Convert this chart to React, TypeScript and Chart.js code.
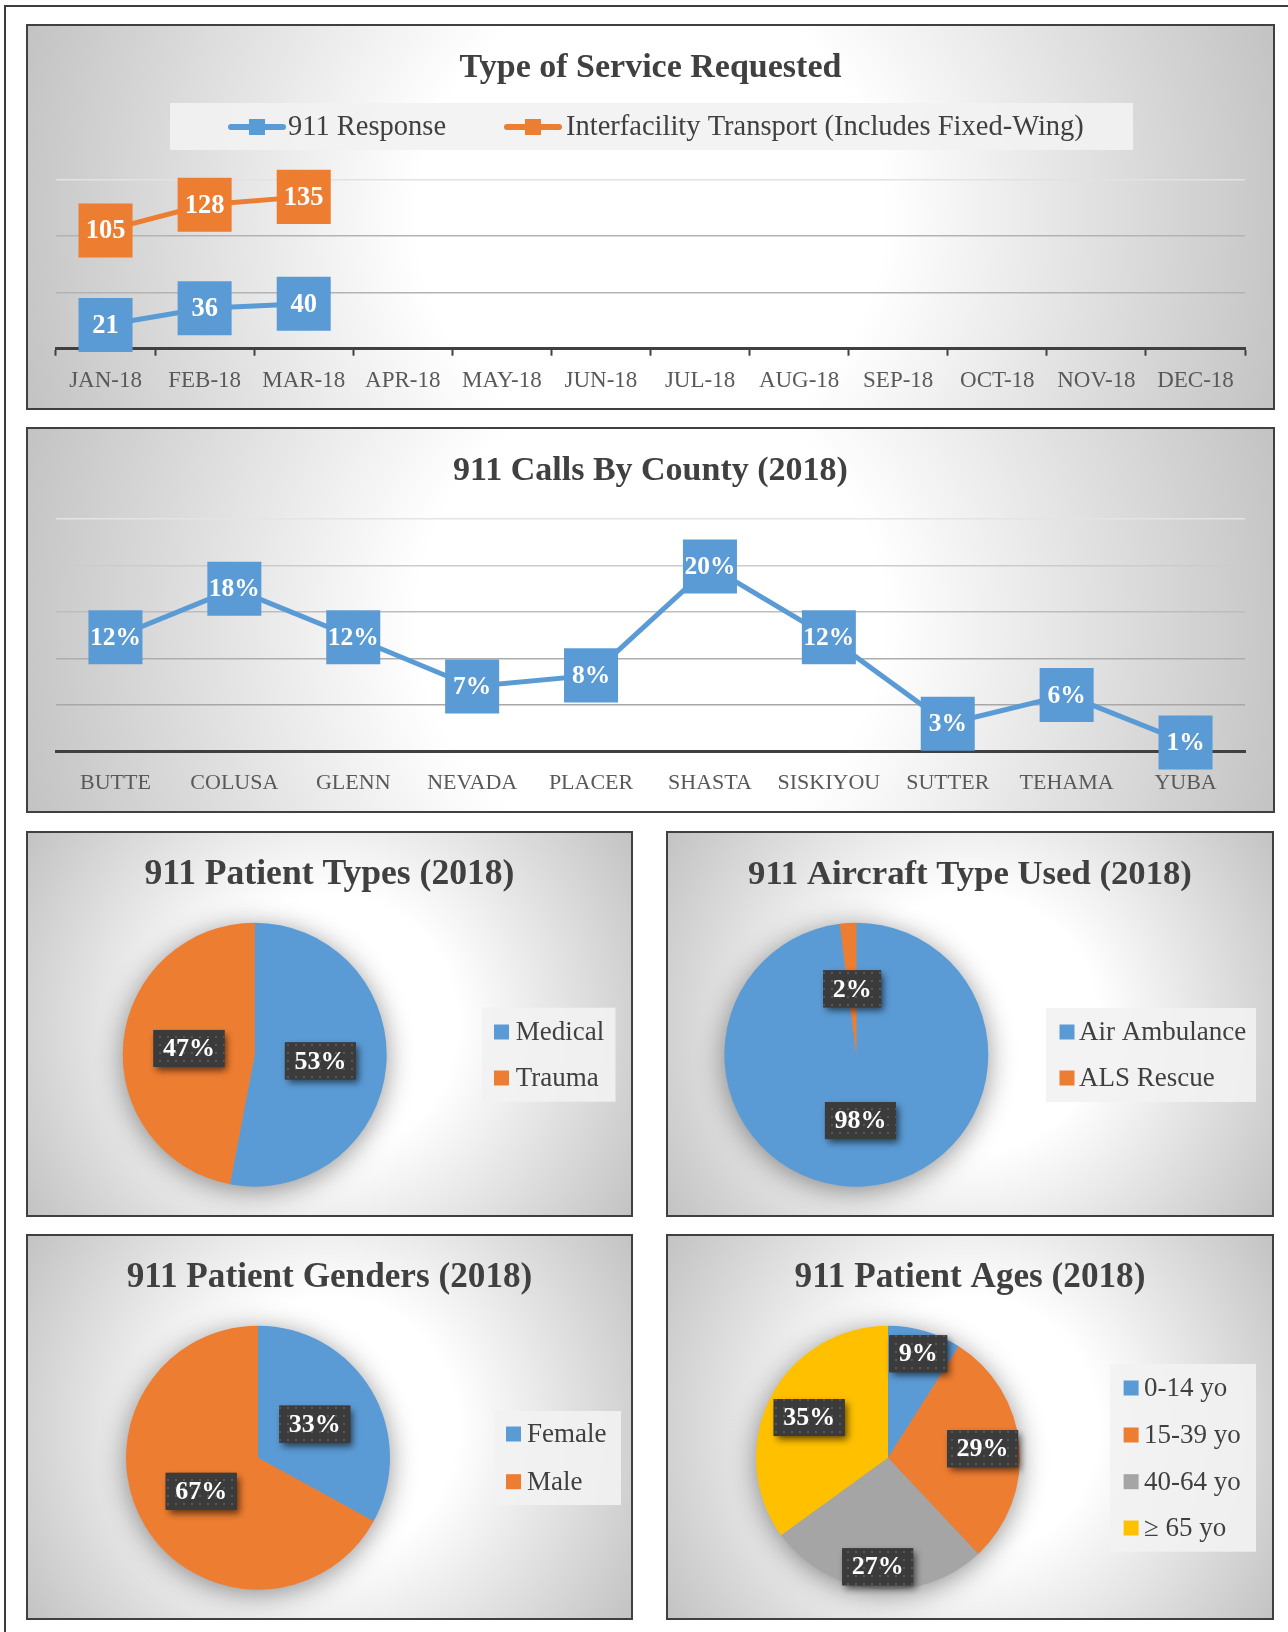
import React, { useEffect, useRef } from 'react';
import { Chart, registerables } from 'chart.js';

Chart.register(...registerables);

// ---------------- DATA ----------------
const months = ['JAN-18', 'FEB-18', 'MAR-18', 'APR-18', 'MAY-18', 'JUN-18', 'JUL-18', 'AUG-18', 'SEP-18', 'OCT-18', 'NOV-18', 'DEC-18'];
const response911 = [21, 36, 40, null, null, null, null, null, null, null, null, null];
const interfacility = [105, 128, 135, null, null, null, null, null, null, null, null, null];
const serviceSeriesNames = ['911 Response', 'Interfacility Transport (Includes Fixed-Wing)'];
const serviceAxisMax = 150;
const serviceAxisStep = 50;

const counties = ['BUTTE', 'COLUSA', 'GLENN', 'NEVADA', 'PLACER', 'SHASTA', 'SISKIYOU', 'SUTTER', 'TEHAMA', 'YUBA'];
const countyShare = [12.3, 17.5, 12.3, 7.0, 8.2, 19.9, 12.3, 3.0, 6.1, 1.0];
const countyAxisMax = 25;
const countyAxisStep = 5;

const patientTypeLabels = ['Medical', 'Trauma'];
const patientTypeShares = [53, 47];
const aircraftLabels = ['Air Ambulance', 'ALS Rescue'];
const aircraftShares = [98, 2];
const genderLabels = ['Female', 'Male'];
const genderShares = [33, 67];
const ageLabels = ['0-14 yo', '15-39 yo', '40-64 yo', '\u2265 65 yo'];
const ageShares = [9, 29, 27, 35];

// ---------------- STYLE ----------------
const FONT = '"Liberation Serif", "Times New Roman", serif';
const BLUE = '#5b9bd5';
const ORANGE = '#ed7d31';
const GRAY = '#a5a5a5';
const YELLOW = '#ffc000';
const TITLE_COLOR = '#404040';
const TEXT_COLOR = '#404040';
const TICK_COLOR = '#595959';
const LEGEND_BG = 'rgba(242,242,242,0.9)';
const PANEL_BG = 'radial-gradient(circle farthest-corner at 50% 50%, #ffffff 0%, #ffffff 36%, #c3c3c3 100%)';
const CANVAS_H = 382;
const AXIS_Y = 322.7;

const font = (size: number, bold = false) => `${bold ? 'bold ' : ''}${size}px ${FONT}`;

function titlePlugin(text: string, size: number, y: number) {
  return {
    id: 'panelTitle',
    afterDraw(chart: any) {
      const ctx = chart.ctx;
      ctx.save();
      ctx.font = font(size, true);
      ctx.fillStyle = TITLE_COLOR;
      ctx.textAlign = 'center';
      ctx.textBaseline = 'middle';
      ctx.fillText(text, chart.width / 2, y);
      ctx.restore();
    },
  };
}

function lineLabelPlugin(size: number, fmt: (v: number) => string) {
  return {
    id: 'lineLabels',
    afterDatasetsDraw(chart: any) {
      const ctx = chart.ctx;
      ctx.save();
      ctx.font = font(size, true);
      ctx.fillStyle = '#ffffff';
      ctx.textAlign = 'center';
      ctx.textBaseline = 'middle';
      chart.data.datasets.forEach((ds: any, di: number) => {
        const meta = chart.getDatasetMeta(di);
        meta.data.forEach((pt: any, i: number) => {
          const v = ds.data[i];
          if (v === null || v === undefined) return;
          ctx.fillText(fmt(v), pt.x, pt.y + 1);
        });
      });
      ctx.restore();
    },
  };
}

function lineOptions(max: number, step: number, top: number, tickSize: number, tickMarks: boolean, gridColor: (v: number) => string) {
  return {
    responsive: false,
    maintainAspectRatio: false,
    animation: false as const,
    devicePixelRatio: 1,
    events: [],
    layout: { autoPadding: false, padding: { left: 0, right: 28, top, bottom: 0 } },
    plugins: { legend: { display: false }, tooltip: { enabled: false }, title: { display: false } },
    scales: {
      x: {
        type: 'category',
        offset: true,
        grid: {
          offset: true,
          drawOnChartArea: false,
          drawTicks: true,
          tickLength: 7,
          tickWidth: 2,
          tickColor: tickMarks ? '#404040' : 'rgba(0,0,0,0)',
        },
        border: { display: true, color: '#404040', width: 3 },
        ticks: {
          color: TICK_COLOR,
          font: { family: FONT, size: tickSize },
          padding: 11,
          maxRotation: 0,
          minRotation: 0,
          autoSkip: false,
        },
        afterFit: (s: any) => {
          s.height = CANVAS_H - AXIS_Y;
          s.paddingLeft = 0;
          s.paddingRight = 0;
        },
      },
      y: {
        min: 0,
        max,
        ticks: { display: false, stepSize: step },
        grid: {
          drawTicks: false,
          lineWidth: 1.6,
          color: (c: any) => gridColor(c.tick ? c.tick.value : 0),
        },
        border: { display: false },
        afterFit: (s: any) => {
          s.width = 28;
          s.paddingTop = 0;
          s.paddingBottom = 0;
        },
      },
    },
  };
}

function pointDataset(label: string, data: (number | null)[], color: string, width: number) {
  return {
    label,
    data,
    borderColor: color,
    backgroundColor: color,
    borderWidth: width,
    pointStyle: 'rect',
    pointRadius: 38.2,
    pointHoverRadius: 38.2,
    pointBackgroundColor: color,
    pointBorderWidth: 0,
    pointHoverBorderWidth: 0,
    tension: 0,
    clip: false,
    spanGaps: false,
  };
}

function buildService(canvas: HTMLCanvasElement) {
  const legendPlugin = {
    id: 'serviceLegend',
    afterDraw(chart: any) {
      const ctx = chart.ctx;
      ctx.save();
      ctx.fillStyle = LEGEND_BG;
      ctx.fillRect(142, 77, 963, 47);
      const items = [
        { x1: 200, x2: 258, tx: 260 },
        { x1: 476, x2: 534, tx: 538 },
      ];
      const y = 101;
      items.forEach((it, i) => {
        const ds = chart.data.datasets[i];
        ctx.strokeStyle = ds.borderColor;
        ctx.lineWidth = 6;
        ctx.lineCap = 'round';
        ctx.beginPath();
        ctx.moveTo(it.x1 + 3, y);
        ctx.lineTo(it.x2 - 3, y);
        ctx.stroke();
        ctx.fillStyle = ds.borderColor;
        const mid = (it.x1 + it.x2) / 2;
        ctx.fillRect(mid - 8, y - 8, 16, 16);
        ctx.fillStyle = TEXT_COLOR;
        ctx.font = font(28.5);
        ctx.textAlign = 'left';
        ctx.textBaseline = 'middle';
        ctx.fillText(ds.label, it.tx, y + 1);
      });
      ctx.restore();
    },
  };
  return new Chart(canvas, {
    type: 'line',
    data: {
      labels: months,
      datasets: [
        pointDataset(serviceSeriesNames[0], response911, BLUE, 5),
        pointDataset(serviceSeriesNames[1], interfacility, ORANGE, 5),
      ] as any,
    },
    options: lineOptions(serviceAxisMax, serviceAxisStep, 154, 23, true, (v) =>
      v === 0 ? 'rgba(0,0,0,0)' : v >= serviceAxisMax ? '#e2e2e2' : '#b3b3b3') as any,
    plugins: [titlePlugin('Type of Service Requested', 34, 41.8), lineLabelPlugin(26.5, (v) => String(v)), legendPlugin],
  });
}

function buildCounty(canvas: HTMLCanvasElement) {
  const colorFor = (v: number) => {
    if (v === 0) return 'rgba(0,0,0,0)';
    if (v >= 25) return '#e4e4e4';
    if (v >= 20) return '#cccccc';
    if (v >= 15) return '#bdbdbd';
    if (v >= 10) return '#adadad';
    return '#a8a8a8';
  };
  return new Chart(canvas, {
    type: 'line',
    data: {
      labels: counties,
      datasets: [pointDataset('911 Calls', countyShare, BLUE, 5)] as any,
    },
    options: lineOptions(countyAxisMax, countyAxisStep, 90, 22, false, colorFor) as any,
    plugins: [titlePlugin('911 Calls By County (2018)', 34, 42.2), lineLabelPlugin(25.5, (v) => `${Math.round(v)}%`)],
  });
}

function makeDotPattern(ctx: CanvasRenderingContext2D) {
  const c = document.createElement('canvas');
  c.width = 8;
  c.height = 8;
  const g = c.getContext('2d')!;
  g.fillStyle = '#3b3b3b';
  g.fillRect(0, 0, 8, 8);
  g.fillStyle = '#575757';
  g.fillRect(3, 3, 2, 2);
  return ctx.createPattern(c, 'repeat');
}

type PieCfg = {
  labels: string[];
  values: number[];
  colors: string[];
  cx: number;
  width: number;
  title: string;
  titleSize: number;
  legendBox: [number, number, number, number];
  squareX: number;
  textX: number;
  rowsY: number[];
  labelFracs: number[];
};

function buildPie(canvas: HTMLCanvasElement, cfg: PieCfg) {
  const R = 132;
  const cy = 221.7;
  const pieDecor = {
    id: 'pieDecor',
    beforeDatasetsDraw(chart: any) {
      const meta = chart.getDatasetMeta(0);
      const arc: any = meta.data[0];
      if (!arc) return;
      const ctx = chart.ctx;
      ctx.save();
      ctx.shadowColor = 'rgba(0,0,0,0.45)';
      ctx.shadowBlur = 28;
      ctx.shadowOffsetX = 0;
      ctx.shadowOffsetY = 4;
      ctx.fillStyle = '#999999';
      ctx.beginPath();
      ctx.arc(arc.x, arc.y, arc.outerRadius - 1, 0, Math.PI * 2);
      ctx.fill();
      ctx.restore();
    },
    afterDatasetsDraw(chart: any) {
      const ctx = chart.ctx;
      const meta = chart.getDatasetMeta(0);
      const ds = chart.data.datasets[0];
      const pattern = makeDotPattern(ctx);
      ctx.save();
      ctx.font = font(26, true);
      ctx.textAlign = 'center';
      ctx.textBaseline = 'middle';
      meta.data.forEach((arc: any, i: number) => {
        const mid = (arc.startAngle + arc.endAngle) / 2;
        const r = arc.outerRadius * cfg.labelFracs[i];
        const x = arc.x + Math.cos(mid) * r;
        const y = arc.y + Math.sin(mid) * r;
        const text = `${ds.data[i]}%`;
        const w = ctx.measureText(text).width + 19;
        const h = 37;
        ctx.save();
        ctx.shadowColor = 'rgba(0,0,0,0.6)';
        ctx.shadowBlur = 7;
        ctx.shadowOffsetX = 3;
        ctx.shadowOffsetY = 4;
        ctx.fillStyle = '#3b3b3b';
        ctx.fillRect(x - w / 2, y - h / 2, w, h);
        ctx.restore();
        ctx.fillStyle = pattern || '#3b3b3b';
        ctx.fillRect(x - w / 2, y - h / 2, w, h);
        ctx.fillStyle = '#ffffff';
        ctx.fillText(text, x, y + 1);
      });
      ctx.restore();
    },
    afterDraw(chart: any) {
      const ctx = chart.ctx;
      const ds = chart.data.datasets[0];
      ctx.save();
      const [bx, by, bw, bh] = cfg.legendBox;
      ctx.fillStyle = LEGEND_BG;
      ctx.fillRect(bx, by, bw, bh);
      ctx.font = font(27);
      ctx.textAlign = 'left';
      ctx.textBaseline = 'middle';
      chart.data.labels.forEach((lab: string, i: number) => {
        const y = cfg.rowsY[i];
        ctx.fillStyle = ds.backgroundColor[i];
        ctx.fillRect(cfg.squareX, y - 7.5, 15, 15);
        ctx.fillStyle = TEXT_COLOR;
        ctx.fillText(lab, cfg.textX, y + 1);
      });
      ctx.restore();
    },
  };
  return new Chart(canvas, {
    type: 'pie',
    data: {
      labels: cfg.labels,
      datasets: [{
        data: cfg.values,
        backgroundColor: cfg.colors,
        borderWidth: 0,
        hoverBorderWidth: 0,
        hoverOffset: 0,
        offset: 0,
      }],
    },
    options: {
      responsive: false,
      maintainAspectRatio: false,
      animation: false,
      devicePixelRatio: 1,
      events: [],
      layout: {
        autoPadding: false,
        padding: {
          left: cfg.cx - R,
          right: cfg.width - (cfg.cx + R),
          top: cy - R,
          bottom: CANVAS_H - (cy + R),
        },
      },
      plugins: { legend: { display: false }, tooltip: { enabled: false }, title: { display: false } },
    } as any,
    plugins: [titlePlugin(cfg.title, cfg.titleSize, 42), pieDecor],
  });
}

const buildTypes = (c: HTMLCanvasElement) => buildPie(c, {
  labels: patientTypeLabels, values: patientTypeShares, colors: [BLUE, ORANGE],
  cx: 226.7, width: 603, title: '911 Patient Types (2018)', titleSize: 35.6,
  legendBox: [454, 174.7, 133.5, 94], squareX: 466, textX: 487.7, rowsY: [199, 245], labelFracs: [0.5, 0.5],
});
const buildAircraft = (c: HTMLCanvasElement) => buildPie(c, {
  labels: aircraftLabels, values: aircraftShares, colors: [BLUE, ORANGE],
  cx: 188.3, width: 604, title: '911 Aircraft Type Used (2018)', titleSize: 34.7,
  legendBox: [378, 175, 210, 94], squareX: 391.5, textX: 411, rowsY: [199, 245], labelFracs: [0.5, 0.5],
});
const buildGender = (c: HTMLCanvasElement) => buildPie(c, {
  labels: genderLabels, values: genderShares, colors: [BLUE, ORANGE],
  cx: 230, width: 603, title: '911 Patient Genders (2018)', titleSize: 35.2,
  legendBox: [466.7, 175, 126.3, 94], squareX: 478, textX: 499, rowsY: [198, 245.7], labelFracs: [0.5, 0.5],
});
const buildAges = (c: HTMLCanvasElement) => buildPie(c, {
  labels: ageLabels, values: ageShares, colors: [BLUE, ORANGE, GRAY, YELLOW],
  cx: 220, width: 604, title: '911 Patient Ages (2018)', titleSize: 35.2,
  legendBox: [442, 128, 146, 187.7], squareX: 455.6, textX: 476, rowsY: [152, 199, 245.7, 292], labelFracs: [0.82, 0.72, 0.83, 0.67],
});

function Panel({ x, y, w, h, build }: { x: number; y: number; w: number; h: number; build: (c: HTMLCanvasElement) => Chart }) {
  const ref = useRef<HTMLCanvasElement | null>(null);
  useEffect(() => {
    if (!ref.current) return;
    const chart = build(ref.current);
    return () => chart.destroy();
  }, [build]);
  return (
    <div style={{
      position: 'absolute', left: x, top: y, width: w, height: h, boxSizing: 'border-box',
      border: '2px solid #404040', background: PANEL_BG,
    }}>
      <canvas ref={ref} width={w - 4} height={h - 4} style={{ display: 'block', width: w - 4, height: h - 4 }} />
    </div>
  );
}

export default function App() {
  return (
    <div style={{ position: 'fixed', left: 0, top: 0, width: 1288, height: 1632, overflow: 'hidden', background: '#ffffff' }}>
      <div style={{
        position: 'absolute', left: 4, top: 5, width: 1400, height: 1700,
        borderTop: '2px solid #3d3d3d', borderLeft: '2px solid #3d3d3d',
      }} />
      <Panel x={26} y={24} w={1249} h={386} build={buildService} />
      <Panel x={26} y={427} w={1249} h={386} build={buildCounty} />
      <Panel x={26} y={831} w={607} h={386} build={buildTypes} />
      <Panel x={666} y={831} w={608} h={386} build={buildAircraft} />
      <Panel x={26} y={1234} w={607} h={386} build={buildGender} />
      <Panel x={666} y={1234} w={608} h={386} build={buildAges} />
    </div>
  );
}
